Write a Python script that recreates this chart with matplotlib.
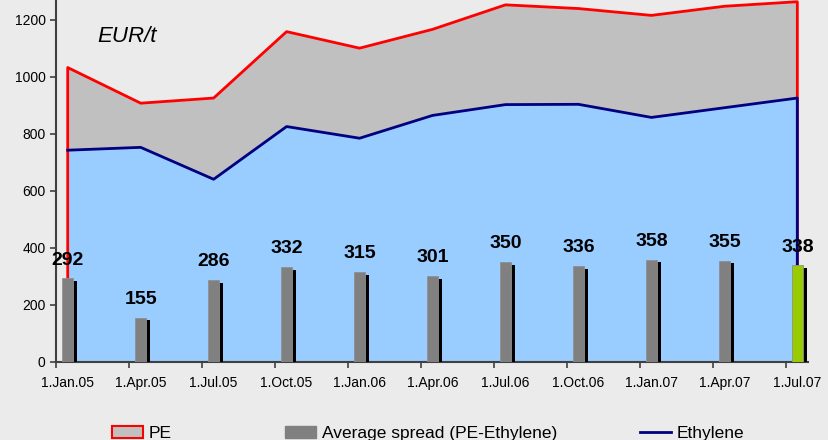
import numpy as np
import matplotlib.pyplot as plt
from matplotlib.patches import Patch
from matplotlib.lines import Line2D

plt.rcParams['font.family'] = ['Liberation Sans', 'DejaVu Sans']

# Quarterly dates
dates = ["1.Jan.05", "1.Apr.05", "1.Jul.05", "1.Oct.05", "1.Jan.06", "1.Apr.06",
         "1.Jul.06", "1.Oct.06", "1.Jan.07", "1.Apr.07", "1.Jul.07"]
pe = [1032, 907, 925, 1158, 1100, 1166, 1252, 1239, 1215, 1247, 1263]
ethylene = [742, 752, 640, 825, 784, 864, 902, 903, 857, 891, 925]
spread = [292, 155, 286, 332, 315, 301, 350, 336, 358, 355, 338]

bg = '#ebebeb'
x = np.arange(len(dates))

fig = plt.figure(figsize=(8.29, 4.40), dpi=100, facecolor=bg)
ax = fig.add_axes([0.0676, 0.178, 0.9074, 0.822], facecolor=bg)

# PE area (grey, red outline) and ethylene area (light blue, navy line)
ax.fill_between(x, 0, pe, color='#c0c0c0', lw=0, zorder=1)
ax.fill_between(x, 0, ethylene, color='#99ccff', lw=0, zorder=2)
ax.plot(np.r_[x[0], x, x[-1]], np.r_[0, pe, 0], color='#ff0000', lw=2, zorder=3)
ax.plot(np.r_[x, x[-1]], np.r_[ethylene, 0], color='#000080', lw=2, zorder=4)

# spread bars with shadow
w = 0.155
colors = ['#808080'] * (len(x) - 1) + ['#99cc00']
ax.bar(x + 0.05, np.array(spread) - 10, width=w, color='black', zorder=5)
ax.bar(x, spread, width=w, color=colors, edgecolor='#909090', lw=0.6, zorder=6)
for xi, v in zip(x, spread):
    ax.annotate(str(v), (xi, v), xytext=(0, 7), textcoords='offset points',
                ha='center', va='bottom', fontsize=14, fontweight='bold', zorder=7)

ax.text(0.40, 1140, 'EUR/t', fontsize=16, style='italic', va='center')

ax.set_xlim(-0.16, 10.15)
ax.set_ylim(0, 1269)
ax.set_yticks(range(0, 1201, 200))
ax.tick_params(axis='y', labelsize=10, length=4, width=1.2, color='#404040')
ax.set_xticks(x - 0.16)
ax.set_xticklabels([])
ax.set_xticks(x, minor=True)
ax.set_xticklabels(dates, minor=True, fontsize=10)
ax.tick_params(axis='x', which='major', length=4, width=1.2, color='#404040')
ax.tick_params(axis='x', which='minor', length=0, pad=10)

for s in ['top', 'right']:
    ax.spines[s].set_visible(False)
for s in ['left', 'bottom']:
    ax.spines[s].set_color('#404040')
    ax.spines[s].set_linewidth(1.5)

# legend items
h1 = Patch(facecolor='#c0c0c0', edgecolor='#ff0000', lw=1.5)
h2 = Patch(facecolor='#808080', edgecolor='#808080')
h3 = Line2D([], [], color='#000080', lw=2)
for h, lab, xpos in [(h1, 'PE', 0.135), (h2, 'Average spread (PE-Ethylene)', 0.344),
                     (h3, 'Ethylene', 0.772)]:
    fig.legend([h], [lab], loc='center left', bbox_to_anchor=(xpos, 0.014),
               frameon=False, fontsize=12.5, handlelength=1.8, handletextpad=0.3,
               borderaxespad=0, borderpad=0)

fig.savefig('out.png', dpi=100, facecolor=bg)
